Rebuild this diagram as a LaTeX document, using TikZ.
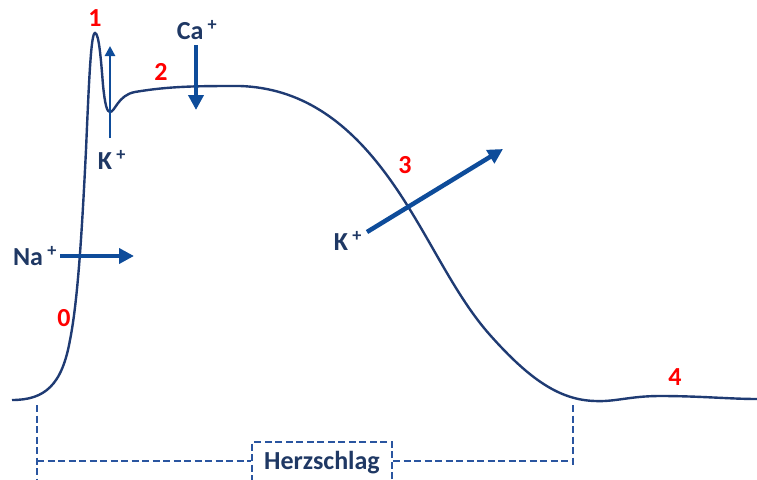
\documentclass[tikz,border=0pt]{standalone}
\usepackage{fontspec}
\setmainfont{Carlito}
\usetikzlibrary{arrows.meta}
\definecolor{navy}{HTML}{1F3864}
\definecolor{curvec}{HTML}{1F3B73}
\definecolor{arrowc}{HTML}{0E4C9A}
\definecolor{dashc}{HTML}{2A55A0}
\tikzset{
  lbl/.style={font=\bfseries\fontsize{26}{30}\selectfont, text=navy, inner sep=0pt},
  num/.style={font=\bfseries\fontsize{26}{30}\selectfont, text=red, inner sep=0pt},
  ion/.style={draw=arrowc, line width=4.5pt, -{Triangle[length=15pt,width=15pt]}},
  ionthin/.style={draw=arrowc, line width=2.8pt, -{Triangle[length=10pt,width=10pt]}},
  dline/.style={draw=dashc, line width=2.4pt, dash pattern=on 7pt off 3.5pt},
}
\begin{document}
\begin{tikzpicture}[x=1pt,y=-1pt]
\useasboundingbox (0,0) rectangle (757,479);
% action potential curve
\draw[curvec, line width=2.4pt]
 (12,400) .. controls (45,400) and (62,385) .. (70,340)
 .. controls (78,300) and (82,230) .. (86,150)
 .. controls (89,80) and (91,33) .. (95,33)
 .. controls (99,33) and (101,60) .. (103,85)
 .. controls (105,105) and (107,112) .. (110,112)
 .. controls (115,112) and (118,95) .. (135,92)
 .. controls (170,86) and (200,86) .. (240,86)
 .. controls (300,88) and (345,120) .. (383,170)
 .. controls (425,225) and (450,290) .. (490,335)
 .. controls (530,380) and (560,400) .. (595,401)
 .. controls (615,402) and (630,396) .. (660,396)
 .. controls (700,396) and (730,399) .. (757,399);
% numbers
\node[num] (n0) at (64,318) {0};
\node[num] (n1) at (95,18) {1};
\node[num] (n2) at (161,72) {2};
\node[num] (n3) at (405,165) {3};
\node[num] (n4) at (675,377) {4};
% ions
\node[lbl] (na) at (35,256) {Na\,\textsuperscript{+}};
\node[lbl] (k1) at (112,160) {K\,\textsuperscript{+}};
\node[lbl] (ca) at (197,30) {Ca\,\textsuperscript{+}};
\node[lbl] (k2) at (348,241) {K\,\textsuperscript{+}};
\coordinate (naS) at (60,256);
\coordinate (naE) at (134,256);
\coordinate (k1S) at (110,138);
\coordinate (k1E) at (110,46);
\coordinate (caS) at (196,45);
\coordinate (caE) at (196,110);
\coordinate (k2S) at (367,232);
\coordinate (k2E) at (503,149);
\draw[ion] (naS) -- (naE);
\draw[ionthin] (k1S) -- (k1E);
\draw[ion] (caS) -- (caE);
\draw[ion] (k2S) -- (k2E);
% Herzschlag bracket
\node[lbl, draw=dashc, line width=2.4pt, dash pattern=on 7pt off 3.5pt, minimum width=140pt, minimum height=44pt, anchor=north] (hz) at (322,441) {\raisebox{8pt}{Herzschlag}};
\coordinate (lt) at (37,405);
\coordinate (lb) at (37,479);
\coordinate (rt) at (573,405);
\coordinate (rb) at (573,468);
\coordinate (lm) at (37,461);
\coordinate (rm) at (573,461);
\draw[dline] (lt) -- (lb);
\draw[dline] (rt) -- (rb);
\draw[dline] (lm) -- (hz.west |- lm);
\draw[dline] (hz.east |- rm) -- (rm);
\end{tikzpicture}
\end{document}
